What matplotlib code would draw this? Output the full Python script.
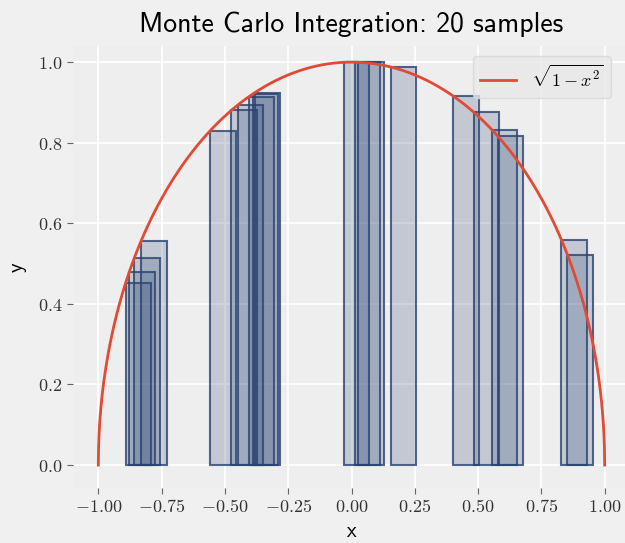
import numpy as np
import matplotlib
matplotlib.use("Agg")
import matplotlib.pyplot as plt

plt.rcParams['mathtext.fontset'] = 'cm'

# sample positions (left edges of bars) and bar heights
sample_x = [-0.8925, -0.878, -0.858, -0.8305,
            -0.558, -0.475, -0.45, -0.405, -0.39, -0.383,
            -0.030, 0.014, 0.027, 0.155,
            0.402, 0.483, 0.555, 0.577, 0.829, 0.853]
sample_h = [0.451, 0.478, 0.514, 0.557,
            0.830, 0.880, 0.893, 0.914, 0.921, 0.924,
            1.000, 1.000, 1.000, 0.988,
            0.916, 0.876, 0.832, 0.817, 0.559, 0.522]
bar_width = 0.1

x_ticks = [-1.00, -0.75, -0.50, -0.25, 0.00, 0.25, 0.50, 0.75, 1.00]
x_tick_labels = ["$-1.00$", "$-0.75$", "$-0.50$", "$-0.25$", "$0.00$",
                 "$0.25$", "$0.50$", "$0.75$", "$1.00$"]
y_ticks = [0.0, 0.2, 0.4, 0.6, 0.8, 1.0]
y_tick_labels = ["$0.0$", "$0.2$", "$0.4$", "$0.6$", "$0.8$", "$1.0$"]

W, H = 625, 543
fig = plt.figure(figsize=(W / 100, H / 100), dpi=100, facecolor='#f0f0f0')
left, right, top, bottom = 73, 630, 46, 488
ax = fig.add_axes([left / W, 1 - bottom / H, (right - left) / W, (bottom - top) / H])
ax.set_facecolor('#eeeeee')

ax.bar(sample_x, sample_h, width=bar_width, align='edge',
       facecolor=(0.17, 0.27, 0.46, 0.22), edgecolor=(0.16, 0.26, 0.44, 0.8),
       linewidth=1.5, zorder=3)

xc = np.linspace(-1, 1, 2001)
ax.plot(xc, np.sqrt(1 - xc ** 2), color='#E24A33', lw=2, zorder=4,
        label=r'$\sqrt{1-x^2}$')

ax.set_xlim(-1.1, 1.1)
ax.set_ylim(-0.057, 1.04)
ax.set_xticks(x_ticks)
ax.set_xticklabels(x_tick_labels)
ax.set_yticks(y_ticks)
ax.set_yticklabels(y_tick_labels)
ax.tick_params(labelsize=13, length=4, width=0.8)
ax.tick_params(axis='both', colors='#666666', labelcolor='#333333')
ax.grid(True, color='white', lw=1.2, zorder=0)
ax.set_axisbelow(True)
for s in ax.spines.values():
    s.set_visible(False)

ax.set_title('Monte Carlo Integration: 20 samples', family='cmss10',
             fontsize=20, pad=10)
ax.set_xlabel('x', family='cmss10', fontsize=15, labelpad=4)
ax.set_ylabel('y', family='cmss10', fontsize=15, labelpad=8)

leg = ax.legend(loc='upper right', fontsize=13, frameon=True,
                handlelength=2.0, bbox_to_anchor=(0.982, 0.997))
leg.get_frame().set_facecolor('#e8e8e8')
leg.get_frame().set_edgecolor('#d8d8d8')

fig.savefig('out.png', dpi=100, facecolor=fig.get_facecolor())
